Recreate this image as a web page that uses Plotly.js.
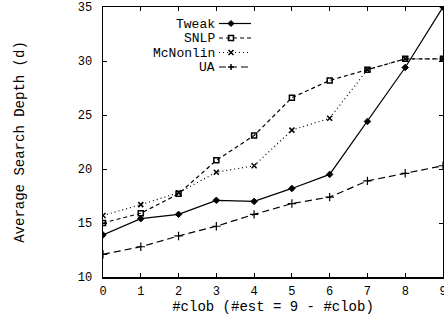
<!DOCTYPE html>
<html>
<head>
<meta charset="utf-8">
<script src="https://cdn.plot.ly/plotly-3.0.1.min.js"></script>
<style>html,body{margin:0;padding:0;background:#fff;}#chart{width:444px;height:321px;}</style>
</head>
<body>
<div id="chart"></div>
<script>
var clob = [0, 1, 2, 3, 4, 5, 6, 7, 8, 9];
var seriesNames = ["Tweak", "SNLP", "McNonlin", "UA"];
var tweak    = [13.9, 15.4, 15.8, 17.1, 17.0, 18.2, 19.5, 24.4, 29.4, 35.0];
var snlp     = [15.0, 15.9, 17.7, 20.8, 23.1, 26.6, 28.2, 29.2, 30.2, 30.2];
var mcnonlin = [15.7, 16.7, 17.8, 19.7, 20.3, 23.6, 24.7, 29.2, 30.2, 30.2];
var ua       = [12.1, 12.8, 13.8, 14.7, 15.8, 16.8, 17.4, 18.9, 19.6, 20.3];

var seriesValues = [tweak, snlp, mcnonlin, ua];
var styles = [
  {dash: "solid", symbol: "diamond", size: 5, mlw: 1},
  {dash: "4px,3px", symbol: "square-open", size: 5, mlw: 1.5},
  {dash: "1px,3px", symbol: "x-thin-open", size: 5, mlw: 1.5},
  {dash: "7px,4px", symbol: "cross-thin-open", size: 6, mlw: 1.2}
];
var font = "Liberation Mono";

var traces = seriesValues.map(function (vals, i) {
  var s = styles[i];
  return {
    x: clob, y: vals, type: "scatter", mode: "lines+markers",
    name: seriesNames[i], showlegend: false,
    line: {color: "#000", width: 1.2, dash: s.dash},
    marker: {color: "#000", symbol: s.symbol, size: s.size, line: {color: "#000", width: s.mlw}}
  };
});

// legend drawn as annotations + shapes (key placement in paper space)
var M = {l: 103, r: 1, t: 7, b: 44};
var PW = 444 - M.l - M.r, PH = 321 - M.t - M.b;
function px(x) { return (x - M.l) / PW; }
function py(y) { return (321 - M.b - y) / PH; }
var rowPx = [23.5, 38, 52.5, 67];
var annotations = [], shapes = [];
seriesNames.forEach(function (n, i) {
  var yy = py(rowPx[i]);
  annotations.push({
    xref: "paper", yref: "paper", x: px(216), y: yy, xanchor: "right", yanchor: "middle",
    height: 14, borderpad: 0,
    text: n, showarrow: false, font: {family: font, size: 13, color: "#000"}
  });
  shapes.push({type: "line", xref: "paper", yref: "paper", x0: px(219), x1: px(251), y0: yy, y1: yy,
    line: {color: "#000", width: 1.2, dash: styles[i].dash}});
  var cx = 231, cy = rowPx[i], paths = [
    "M" + [cx - 3, cy] + "L" + [cx, cy - 3] + "L" + [cx + 3, cy] + "L" + [cx, cy + 3] + "Z",
    "M" + [cx - 2.5, cy - 2.5] + "H" + (cx + 2.5) + "V" + (cy + 2.5) + "H" + (cx - 2.5) + "Z",
    "M" + [cx - 2.5, cy - 2.5] + "L" + [cx + 2.5, cy + 2.5] + "M" + [cx - 2.5, cy + 2.5] + "L" + [cx + 2.5, cy - 2.5],
    "M" + [cx - 3, cy] + "H" + (cx + 3) + "M" + [cx, cy - 3] + "V" + (cy + 3)
  ];
  // convert pixel path to paper coords
  var p = paths[i].replace(/([MLHVZ])([^MLHVZ]*)/g, function (m, cmd, args) {
    if (cmd === "Z") return "Z";
    var nums = args.split(",").filter(function (s) { return s.length; }).map(Number);
    if (cmd === "H") return "H" + px(nums[0]);
    if (cmd === "V") return "V" + py(nums[0]);
    return cmd + px(nums[0]) + "," + py(nums[1]);
  });
  shapes.push({type: "path", xref: "paper", yref: "paper", path: p,
    fillcolor: i === 0 ? "#000" : "rgba(0,0,0,0)", line: {color: "#000", width: i === 0 ? 1 : 1.5}});
});

var layout = {
  width: 444, height: 321,
  margin: M,
  paper_bgcolor: "#fff", plot_bgcolor: "#fff",
  showlegend: false,
  annotations: annotations,
  shapes: shapes,
  xaxis: {
    range: [0, 9], dtick: 1, tick0: 0, showgrid: false, zeroline: false,
    showline: true, linecolor: "#000", linewidth: 1.5, mirror: "ticks",
    ticks: "inside", ticklen: 4, tickcolor: "#000", ticklabeloverflow: "allow",
    tickfont: {family: font, size: 12, color: "#000"}, ticklabelstandoff: 2,
    title: {text: "#clob (#est = 9 - #clob)", font: {family: font, size: 14, color: "#000"}, standoff: 2}
  },
  yaxis: {
    range: [10, 35], dtick: 5, tick0: 10, showgrid: false, zeroline: false,
    showline: true, linecolor: "#000", linewidth: 1.5, mirror: "ticks",
    ticks: "inside", ticklen: 4, tickcolor: "#000",
    tickfont: {family: font, size: 12, color: "#000"}, ticklabelstandoff: 7,
    title: {text: "Average Search Depth (d)", font: {family: font, size: 14, color: "#000"}, standoff: 50}
  }
};

Plotly.newPlot("chart", traces, layout, {staticPlot: true, displayModeBar: false});
</script>
</body>
</html>
